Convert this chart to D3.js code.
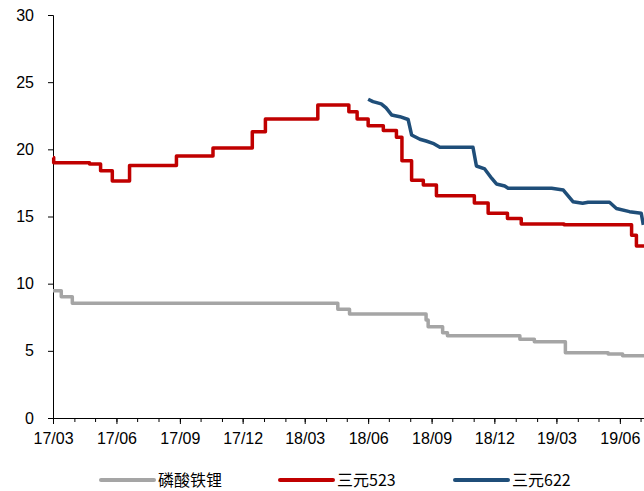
<!DOCTYPE html>
<html>
<head>
<meta charset="utf-8">
<script src="https://cdn.jsdelivr.net/npm/d3@7/dist/d3.min.js"></script>
<style>
  html, body { margin: 0; padding: 0; background: #fff; }
  svg { display: block; }
</style>
</head>
<body>
<svg id="chart" width="644" height="491"></svg>
<script>
// ---- DATA ----
const seriesNames = ["磷酸铁锂", "三元523", "三元622"];
const xTickLabels = ["17/03","17/06","17/09","17/12","18/03","18/06","18/09","18/12","19/03","19/06"];
const yTickValues = [0, 5, 10, 15, 20, 25, 30];

const lfp = [ // 磷酸铁锂 (step)
  ["2017-03-01", 9.48], ["2017-03-13", 9.03], ["2017-03-29", 8.54],
  ["2018-04-18", 8.10], ["2018-05-05", 7.74], ["2018-08-24", 7.30],
  ["2018-08-27", 6.80], ["2018-09-17", 6.35], ["2018-09-24", 6.13],
  ["2019-01-07", 5.86], ["2019-01-28", 5.68], ["2019-03-14", 4.86],
  ["2019-05-15", 4.76], ["2019-06-05", 4.64], ["2019-07-06", 4.64]
];
const ncm523 = [ // 三元523 (step)
  ["2017-03-01", 19.40], ["2017-03-02", 19.00], ["2017-04-23", 18.90],
  ["2017-05-09", 18.40], ["2017-05-26", 17.65], ["2017-06-20", 18.80],
  ["2017-08-27", 19.50], ["2017-10-19", 20.10], ["2017-12-15", 21.30],
  ["2018-01-03", 22.25], ["2018-03-20", 23.30], ["2018-05-04", 22.80],
  ["2018-05-16", 22.25], ["2018-06-01", 21.75], ["2018-06-23", 21.40],
  ["2018-07-12", 20.90], ["2018-07-20", 19.15], ["2018-08-03", 17.70],
  ["2018-08-20", 17.35], ["2018-09-08", 16.55], ["2018-11-02", 16.00],
  ["2018-11-22", 15.25], ["2018-12-20", 14.85], ["2019-01-09", 14.45],
  ["2019-03-12", 14.38], ["2019-06-18", 13.60], ["2019-06-25", 12.80],
  ["2019-07-06", 12.80]
];
const ncm622 = [ // 三元622
  ["2018-06-01", 23.73], ["2018-06-08", 23.55], ["2018-06-20", 23.38],
  ["2018-06-27", 23.08], ["2018-07-05", 22.56], ["2018-07-17", 22.43],
  ["2018-07-29", 22.22], ["2018-08-03", 21.07], ["2018-08-15", 20.75],
  ["2018-08-24", 20.62], ["2018-09-03", 20.45], ["2018-09-13", 20.15],
  ["2018-10-31", 20.15], ["2018-11-05", 18.76], ["2018-11-17", 18.54],
  ["2018-11-27", 17.85], ["2018-12-04", 17.42], ["2018-12-16", 17.27],
  ["2018-12-21", 17.10], ["2019-02-22", 17.10], ["2019-03-11", 16.97],
  ["2019-03-25", 16.10], ["2019-04-08", 15.98], ["2019-04-16", 16.06],
  ["2019-05-17", 16.06], ["2019-05-27", 15.60], ["2019-06-15", 15.36],
  ["2019-07-02", 15.24], ["2019-07-05", 14.37]
];
const colors = ["#A5A5A5", "#C00000", "#1F4E79"];

// ---- CHART ----
const svg = d3.select("#chart");
const parse = d3.timeParse("%Y-%m-%d");
const parseTick = d3.timeParse("%y/%m");
const x = d3.scaleTime()
  .domain([parse("2017-03-01"), parse("2019-07-06")])
  .range([53, 644]);
const y = d3.scaleLinear().domain([0, 30]).range([418, 15]);

const font = "'Liberation Sans', Arial, sans-serif";

// Y axis
const yAxis = svg.append("g").attr("transform", "translate(53,0)")
  .call(d3.axisLeft(y).tickValues(yTickValues).tickSize(5).tickPadding(14).tickFormat(d3.format("d")));
yAxis.selectAll("text").attr("font-family", font).attr("font-size", 16).attr("fill", "#000");
yAxis.selectAll("line, path").attr("stroke", "#000");

// X axis
const majorDates = xTickLabels.map(parseTick);
const minorDates = d3.timeMonth.range(parse("2017-03-01"), parse("2019-07-06"));
const xMinor = svg.append("g").attr("transform", "translate(0,418)")
  .call(d3.axisBottom(x).tickValues(minorDates).tickSize(4).tickFormat(""));
xMinor.select("path").remove();
xMinor.selectAll("line").attr("stroke", "#000");
const xAxis = svg.append("g").attr("transform", "translate(0,418)")
  .call(d3.axisBottom(x).tickValues(majorDates).tickSize(6).tickSizeOuter(0).tickPadding(9)
    .tickFormat((d, i) => xTickLabels[i]));
xAxis.selectAll("text").attr("font-family", font).attr("font-size", 16).attr("fill", "#000");
xAxis.selectAll("line, path").attr("stroke", "#000");

// Lines
const series = [
  { name: seriesNames[0], data: lfp, curve: d3.curveStepAfter },
  { name: seriesNames[1], data: ncm523, curve: d3.curveStepAfter },
  { name: seriesNames[2], data: ncm622, curve: d3.curveLinear }
];
series.forEach((s, i) => {
  const line = d3.line().x(d => x(parse(d[0]))).y(d => y(d[1])).curve(s.curve);
  svg.append("path").datum(s.data)
    .attr("d", line)
    .attr("fill", "none")
    .attr("stroke", colors[i])
    .attr("stroke-width", 3.5)
    .attr("stroke-linejoin", "round");
});

// Legend
const legendX = [101, 280, 455];
const legend = svg.append("g");
series.forEach((s, i) => {
  const g = legend.append("g").attr("transform", `translate(${legendX[i]},480)`);
  g.append("line").attr("x1", 0).attr("x2", 53).attr("y1", 0).attr("y2", 0)
    .attr("stroke", colors[i]).attr("stroke-width", 4).attr("stroke-linecap", "round");
  g.append("text").attr("x", 57).attr("y", 0).attr("dy", "0.35em")
    .attr("font-family", "'Noto Sans CJK SC', " + font).attr("font-size", 16)
    .attr("fill", "#000").text(s.name);
});
</script>
</body>
</html>
